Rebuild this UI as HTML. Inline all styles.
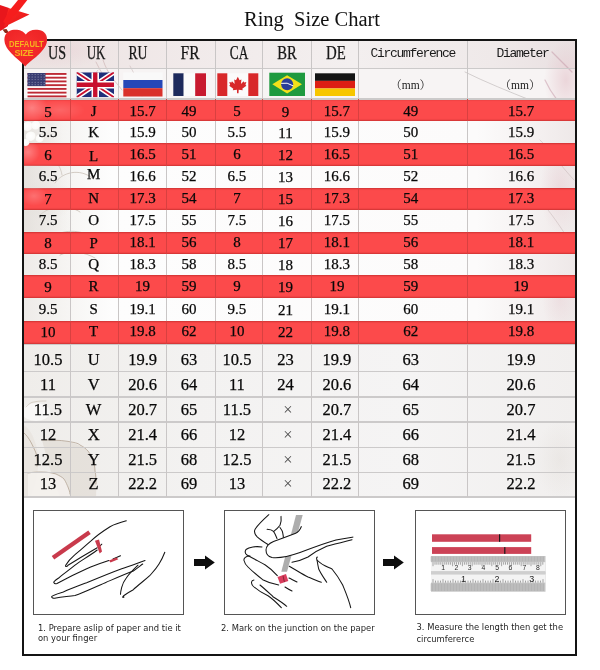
<!DOCTYPE html>
<html><head><meta charset="utf-8"><title>Ring Size Chart</title>
<style>
*{margin:0;padding:0;box-sizing:border-box}
html,body{width:600px;height:670px;background:#fff;overflow:hidden;position:relative}
body{font-family:"Liberation Serif","Noto Serif CJK SC",serif;color:#111}
.a{position:absolute}
#title{left:1px;width:622px;top:7.7px;text-align:center;font-size:20.5px;white-space:pre;color:#111}
#tbl{left:23px;top:39px;width:553px;height:459px;overflow:hidden;background:#f6f5f4}
.vl{position:absolute;top:0;width:1px;background:#c9c6c6}
.vr{position:absolute;width:1px;background:#d94040}
.hl{position:absolute;left:0;height:1.5px;background:#cccaca;width:553px}
.red{position:absolute;left:0;width:553px;background:#fc4a4b;box-shadow:inset 0 1.2px 0.8px rgba(170,30,30,.45),inset 0 -1.2px 0.8px rgba(170,30,30,.45)}
.c{position:absolute;text-align:center;white-space:nowrap;line-height:1;color:#080808;-webkit-text-stroke:0.25px #080808}
.hd{font-size:19px;color:#1a1a1a}
.mono{font-family:"Liberation Mono",monospace;font-size:13px;letter-spacing:-1.3px;color:#1a1a1a;-webkit-text-stroke:0}
.mm{font-family:"Liberation Serif","Noto Serif CJK SC",serif;font-size:11.5px;color:#1a1a1a;-webkit-text-stroke:0}
.n{font-size:15px}
.n2{font-size:16.5px}
#frame{left:22px;top:39px;width:555px;height:617px;border:2px solid #141414}
.box{position:absolute;border:1.5px solid #555;background:#fff}
.cap{position:absolute;font-family:"DejaVu Sans","Liberation Sans",sans-serif;font-size:8.4px;color:#1e1e1e;line-height:10.8px;white-space:nowrap}
svg{position:absolute;overflow:visible}
</style></head><body>

<div id="title" class="a">Ring  Size Chart</div>
<div id="tbl" class="a">
<svg style="left:0;top:0" width="553" height="458" viewBox="23 39 553 458">
<defs>
<linearGradient id="hdr" x1="0" y1="0" x2="1" y2="0">
<stop offset="0" stop-color="#ece2e1"/><stop offset="0.3" stop-color="#f1eaea"/><stop offset="0.6" stop-color="#f3efef"/><stop offset="0.85" stop-color="#efe9e9"/><stop offset="1" stop-color="#e9e0e1"/></linearGradient>
<linearGradient id="mid" x1="0" y1="0" x2="1" y2="0">
<stop offset="0" stop-color="#eeebe8"/><stop offset="0.08" stop-color="#f6f5f3"/><stop offset="0.16" stop-color="#fdfdfd"/><stop offset="0.82" stop-color="#fcfbfb"/><stop offset="0.93" stop-color="#f4f0f0"/><stop offset="1" stop-color="#eee8e8"/></linearGradient>
<linearGradient id="low" x1="0" y1="0" x2="1" y2="0">
<stop offset="0" stop-color="#efedea"/><stop offset="0.3" stop-color="#f3f2f1"/><stop offset="0.7" stop-color="#f5f4f4"/><stop offset="1" stop-color="#f1efee"/></linearGradient>
<radialGradient id="pk" cx="0.5" cy="0.5" r="0.5"><stop offset="0" stop-color="#e6c9cf" stop-opacity="0.7"/><stop offset="1" stop-color="#e6c9cf" stop-opacity="0"/></radialGradient>
<radialGradient id="wh" cx="0.5" cy="0.5" r="0.5"><stop offset="0" stop-color="#ffffff" stop-opacity="1"/><stop offset="0.7" stop-color="#ffffff" stop-opacity="0.8"/><stop offset="1" stop-color="#ffffff" stop-opacity="0"/></radialGradient>
<radialGradient id="gr" cx="0.5" cy="0.5" r="0.5"><stop offset="0" stop-color="#dcd6d0" stop-opacity="0.8"/><stop offset="1" stop-color="#dcd6d0" stop-opacity="0"/></radialGradient>
</defs>
<rect x="23" y="39" width="553" height="458" fill="url(#mid)"/>
<rect x="23" y="39" width="553" height="29" fill="url(#hdr)"/>
<rect x="23" y="68" width="553" height="31" fill="#f7f4f4"/>
<rect x="23" y="343.6" width="553" height="153.4" fill="url(#low)"/>
<ellipse cx="566" cy="80" rx="22" ry="40" fill="url(#pk)"/>
<ellipse cx="560" cy="190" rx="20" ry="45" fill="url(#pk)" opacity="0.7"/>
<ellipse cx="560" cy="300" rx="18" ry="30" fill="url(#pk)" opacity="0.5"/>
<ellipse cx="60" cy="50" rx="50" ry="18" fill="url(#pk)" opacity="0.6"/>
<path fill="none" stroke-linecap="round" stroke="#c7a9a9" stroke-width="1" opacity="0.55" d="M96,62 C100,70 104,78 112,86 M103,60 C108,75 116,82 122,90"/>
<path fill="none" stroke-linecap="round" stroke="#b9a6a6" stroke-width="0.8" opacity="0.5" d="M80,95 C85,85 92,78 98,70 M130,66 C135,75 140,85 142,96"/>
<path fill="none" stroke-linecap="round" stroke="#a7a0a0" stroke-width="1" opacity="0.45" d="M465,72 C485,82 510,92 530,100"/>
<path fill="none" stroke-linecap="round" stroke="#c496a6" stroke-width="1.2" opacity="0.5" d="M552,52 C558,58 564,64 572,72 M545,80 C552,95 560,105 570,112"/>
<path fill="none" stroke-linecap="round" stroke="#b8a8a8" stroke-width="0.8" opacity="0.5" d="M540,140 C550,150 560,165 574,180 M548,210 C556,220 566,235 575,250"/>
<ellipse cx="36" cy="128" rx="14" ry="9" fill="url(#wh)"/>
<ellipse cx="30" cy="140" rx="12" ry="8" fill="url(#wh)"/>
<ellipse cx="45" cy="200" rx="30" ry="20" fill="url(#gr)" opacity="0.5"/>
<path fill="none" stroke-linecap="round" stroke="#a99a8c" stroke-width="0.8" opacity="0.6" d="M30,155 C45,150 60,160 62,175 M55,183 C62,172 80,168 92,178 M40,215 C50,205 70,205 80,212 M52,237 C65,228 85,230 96,240 M60,255 C70,250 85,252 95,258"/>
<path d="M23,425 C30,428 36,440 38,455 C39,470 36,485 30,497 L23,497 Z" fill="#e9e4de" opacity="0.8"/>
<path d="M42,440 C60,439 78,442 88,451 C95,460 97,475 96,497 L60,497 C55,485 50,470 46,455 Z" fill="#e2dcd5" opacity="0.75"/>
<path d="M28,473 C42,470 56,472 64,479 C68,485 70,492 70,497 L28,497 Z" fill="#f4f1ed" opacity="0.9"/>
<ellipse cx="36" cy="412" rx="14" ry="9" fill="#ffffff" opacity="0.6"/>
<path fill="none" stroke-linecap="round" stroke="#a89684" stroke-width="0.9" opacity="0.75" d="M24,433 C29,437 33,446 36,453 C37,458 37.5,462 37,466"/>
<path fill="none" stroke-linecap="round" stroke="#a89684" stroke-width="0.9" opacity="0.75" d="M42,440 C50,440 60,440 68,441.4 C74,442.5 78,443 80,445 C84,447 86,449 88,451 C90,454 92,456 93,459 C94,463 95,467 95,471 C96,475 96,480 96,484"/>
<path fill="none" stroke-linecap="round" stroke="#a89684" stroke-width="0.9" opacity="0.7" d="M28,473 C34,472 38,472 42,472 C48,472 52,473 56,474 C60,476 62,477 64,479 C66,482 67,485 68,487 C69,490 70,492 70,494"/>
<path fill="none" stroke-linecap="round" stroke="#bcae9f" stroke-width="0.8" opacity="0.6" d="M26,407 C29,404 31,402 34,402 C38,401 42,401 46,401"/>
<ellipse cx="560" cy="460" rx="25" ry="40" fill="url(#gr)" opacity="0.4"/>
</svg>
<div class="red" style="top:59.70px;height:22.50px"></div>
<div class="red" style="top:104.00px;height:22.70px"></div>
<div class="red" style="top:149.30px;height:22.00px"></div>
<div class="red" style="top:192.80px;height:22.20px"></div>
<div class="red" style="top:236.30px;height:22.50px"></div>
<div class="red" style="top:282.00px;height:23.20px"></div>
<svg style="left:0;top:0" width="553" height="459" viewBox="23 39 553 459">
<defs><radialGradient id="wo" cx="0.5" cy="0.5" r="0.5"><stop offset="0" stop-color="#fff" stop-opacity="0.3"/><stop offset="1" stop-color="#fff" stop-opacity="0"/></radialGradient>
<linearGradient id="gl" x1="0" y1="0" x2="1" y2="0"><stop offset="0" stop-color="#e2ded9" stop-opacity="0.9"/><stop offset="0.5" stop-color="#e6e2de" stop-opacity="0.6"/><stop offset="1" stop-color="#eeeae6" stop-opacity="0"/></linearGradient>
<radialGradient id="wp" cx="0.45" cy="0.4" r="0.55"><stop offset="0" stop-color="#fff"/><stop offset="0.75" stop-color="#fbfaf8"/><stop offset="1" stop-color="#e7e2dc" stop-opacity="0"/></radialGradient></defs>
<ellipse cx="32" cy="108" rx="16" ry="14" fill="url(#wo)"/>
<ellipse cx="28" cy="152" rx="12" ry="12" fill="url(#wo)"/>
<ellipse cx="34" cy="196" rx="14" ry="10" fill="url(#wo)" opacity="0.7"/>
<ellipse cx="60" cy="110" rx="25" ry="10" fill="url(#wo)" opacity="0.5"/>
<rect x="23" y="121.2" width="40" height="21.8" fill="url(#gl)"/>
<rect x="23" y="165.7" width="50" height="22.6" fill="url(#gl)" opacity="0.8"/>
<rect x="23" y="210.3" width="50" height="21.5" fill="url(#gl)" opacity="0.8"/>
<circle cx="28" cy="127" r="5.5" fill="url(#wp)"/>
<circle cx="36" cy="126" r="5" fill="url(#wp)"/>
<circle cx="31" cy="137" r="5.5" fill="url(#wp)"/>
<circle cx="40" cy="139" r="4.5" fill="url(#wp)"/>
<circle cx="26" cy="143" r="4" fill="url(#wp)"/>
</svg>
<div class="hl" style="top:28.50px"></div>
<div class="hl" style="top:59.20px"></div>
<div class="hl" style="top:304.70px"></div>
<div class="hl" style="top:331.50px"></div>
<div class="hl" style="top:357.00px"></div>
<div class="hl" style="top:382.00px"></div>
<div class="hl" style="top:407.50px"></div>
<div class="hl" style="top:432.50px"></div>
<div class="hl" style="top:457.00px"></div>
<div class="vl" style="left:46.50px;height:458px"></div>
<div class="vl" style="left:94.70px;height:458px"></div>
<div class="vl" style="left:142.50px;height:458px"></div>
<div class="vl" style="left:191.50px;height:458px"></div>
<div class="vl" style="left:239.00px;height:458px"></div>
<div class="vl" style="left:288.00px;height:458px"></div>
<div class="vl" style="left:334.80px;height:458px"></div>
<div class="vl" style="left:443.50px;height:458px"></div>
<div class="vr" style="left:46.50px;top:59.70px;height:22.50px"></div>
<div class="vr" style="left:94.70px;top:59.70px;height:22.50px"></div>
<div class="vr" style="left:142.50px;top:59.70px;height:22.50px"></div>
<div class="vr" style="left:191.50px;top:59.70px;height:22.50px"></div>
<div class="vr" style="left:239.00px;top:59.70px;height:22.50px"></div>
<div class="vr" style="left:288.00px;top:59.70px;height:22.50px"></div>
<div class="vr" style="left:334.80px;top:59.70px;height:22.50px"></div>
<div class="vr" style="left:443.50px;top:59.70px;height:22.50px"></div>
<div class="vr" style="left:46.50px;top:104.00px;height:22.70px"></div>
<div class="vr" style="left:94.70px;top:104.00px;height:22.70px"></div>
<div class="vr" style="left:142.50px;top:104.00px;height:22.70px"></div>
<div class="vr" style="left:191.50px;top:104.00px;height:22.70px"></div>
<div class="vr" style="left:239.00px;top:104.00px;height:22.70px"></div>
<div class="vr" style="left:288.00px;top:104.00px;height:22.70px"></div>
<div class="vr" style="left:334.80px;top:104.00px;height:22.70px"></div>
<div class="vr" style="left:443.50px;top:104.00px;height:22.70px"></div>
<div class="vr" style="left:46.50px;top:149.30px;height:22.00px"></div>
<div class="vr" style="left:94.70px;top:149.30px;height:22.00px"></div>
<div class="vr" style="left:142.50px;top:149.30px;height:22.00px"></div>
<div class="vr" style="left:191.50px;top:149.30px;height:22.00px"></div>
<div class="vr" style="left:239.00px;top:149.30px;height:22.00px"></div>
<div class="vr" style="left:288.00px;top:149.30px;height:22.00px"></div>
<div class="vr" style="left:334.80px;top:149.30px;height:22.00px"></div>
<div class="vr" style="left:443.50px;top:149.30px;height:22.00px"></div>
<div class="vr" style="left:46.50px;top:192.80px;height:22.20px"></div>
<div class="vr" style="left:94.70px;top:192.80px;height:22.20px"></div>
<div class="vr" style="left:142.50px;top:192.80px;height:22.20px"></div>
<div class="vr" style="left:191.50px;top:192.80px;height:22.20px"></div>
<div class="vr" style="left:239.00px;top:192.80px;height:22.20px"></div>
<div class="vr" style="left:288.00px;top:192.80px;height:22.20px"></div>
<div class="vr" style="left:334.80px;top:192.80px;height:22.20px"></div>
<div class="vr" style="left:443.50px;top:192.80px;height:22.20px"></div>
<div class="vr" style="left:46.50px;top:236.30px;height:22.50px"></div>
<div class="vr" style="left:94.70px;top:236.30px;height:22.50px"></div>
<div class="vr" style="left:142.50px;top:236.30px;height:22.50px"></div>
<div class="vr" style="left:191.50px;top:236.30px;height:22.50px"></div>
<div class="vr" style="left:239.00px;top:236.30px;height:22.50px"></div>
<div class="vr" style="left:288.00px;top:236.30px;height:22.50px"></div>
<div class="vr" style="left:334.80px;top:236.30px;height:22.50px"></div>
<div class="vr" style="left:443.50px;top:236.30px;height:22.50px"></div>
<div class="vr" style="left:46.50px;top:282.00px;height:23.20px"></div>
<div class="vr" style="left:94.70px;top:282.00px;height:23.20px"></div>
<div class="vr" style="left:142.50px;top:282.00px;height:23.20px"></div>
<div class="vr" style="left:191.50px;top:282.00px;height:23.20px"></div>
<div class="vr" style="left:239.00px;top:282.00px;height:23.20px"></div>
<div class="vr" style="left:288.00px;top:282.00px;height:23.20px"></div>
<div class="vr" style="left:334.80px;top:282.00px;height:23.20px"></div>
<div class="vr" style="left:443.50px;top:282.00px;height:23.20px"></div>
<svg style="left:-23px;top:-39px" width="600" height="670" viewBox="0 0 600 670">
<rect x="27.5" y="73" width="39" height="24.3" fill="#fff"/>
<rect x="27.5" y="73.00" width="39" height="1.87" fill="#bd2a35"/>
<rect x="27.5" y="76.74" width="39" height="1.87" fill="#bd2a35"/>
<rect x="27.5" y="80.48" width="39" height="1.87" fill="#bd2a35"/>
<rect x="27.5" y="84.22" width="39" height="1.87" fill="#bd2a35"/>
<rect x="27.5" y="87.95" width="39" height="1.87" fill="#bd2a35"/>
<rect x="27.5" y="91.69" width="39" height="1.87" fill="#bd2a35"/>
<rect x="27.5" y="95.43" width="39" height="1.87" fill="#bd2a35"/>
<rect x="27.5" y="73" width="18" height="13.08" fill="#3a3d72"/>
<circle cx="29.1" cy="74.4" r="0.45" fill="#d8dae8"/>
<circle cx="32.1" cy="74.4" r="0.45" fill="#d8dae8"/>
<circle cx="35.1" cy="74.4" r="0.45" fill="#d8dae8"/>
<circle cx="38.1" cy="74.4" r="0.45" fill="#d8dae8"/>
<circle cx="41.1" cy="74.4" r="0.45" fill="#d8dae8"/>
<circle cx="44.1" cy="74.4" r="0.45" fill="#d8dae8"/>
<circle cx="29.1" cy="77.0" r="0.45" fill="#d8dae8"/>
<circle cx="32.1" cy="77.0" r="0.45" fill="#d8dae8"/>
<circle cx="35.1" cy="77.0" r="0.45" fill="#d8dae8"/>
<circle cx="38.1" cy="77.0" r="0.45" fill="#d8dae8"/>
<circle cx="41.1" cy="77.0" r="0.45" fill="#d8dae8"/>
<circle cx="44.1" cy="77.0" r="0.45" fill="#d8dae8"/>
<circle cx="29.1" cy="79.6" r="0.45" fill="#d8dae8"/>
<circle cx="32.1" cy="79.6" r="0.45" fill="#d8dae8"/>
<circle cx="35.1" cy="79.6" r="0.45" fill="#d8dae8"/>
<circle cx="38.1" cy="79.6" r="0.45" fill="#d8dae8"/>
<circle cx="41.1" cy="79.6" r="0.45" fill="#d8dae8"/>
<circle cx="44.1" cy="79.6" r="0.45" fill="#d8dae8"/>
<circle cx="29.1" cy="82.2" r="0.45" fill="#d8dae8"/>
<circle cx="32.1" cy="82.2" r="0.45" fill="#d8dae8"/>
<circle cx="35.1" cy="82.2" r="0.45" fill="#d8dae8"/>
<circle cx="38.1" cy="82.2" r="0.45" fill="#d8dae8"/>
<circle cx="41.1" cy="82.2" r="0.45" fill="#d8dae8"/>
<circle cx="44.1" cy="82.2" r="0.45" fill="#d8dae8"/>
<circle cx="29.1" cy="84.8" r="0.45" fill="#d8dae8"/>
<circle cx="32.1" cy="84.8" r="0.45" fill="#d8dae8"/>
<circle cx="35.1" cy="84.8" r="0.45" fill="#d8dae8"/>
<circle cx="38.1" cy="84.8" r="0.45" fill="#d8dae8"/>
<circle cx="41.1" cy="84.8" r="0.45" fill="#d8dae8"/>
<circle cx="44.1" cy="84.8" r="0.45" fill="#d8dae8"/>
<svg x="76.5" y="72.3" width="37.5" height="25" viewBox="0 0 60 40" preserveAspectRatio="none" style="position:static;overflow:hidden"><rect width="60" height="40" fill="#1f2f7a"/><path d="M0,0 L60,40 M60,0 L0,40" stroke="#fff" stroke-width="8"/><path d="M0,0 L60,40 M60,0 L0,40" stroke="#c8102e" stroke-width="3"/><path d="M30,0 V40 M0,20 H60" stroke="#fff" stroke-width="12"/><path d="M30,0 V40 M0,20 H60" stroke="#c8102e" stroke-width="7"/></svg>
<rect x="123.3" y="72.5" width="39.2" height="8" fill="#f9f9f9"/>
<rect x="123.3" y="80.0" width="39.2" height="8.2" fill="#2547b8"/>
<rect x="123.3" y="88.2" width="39.2" height="8.3" fill="#d9312b"/>
<rect x="173.3" y="73.3" width="10.4" height="22.7" fill="#1d2a5c"/>
<rect x="183.70000000000002" y="73.3" width="11.5" height="22.7" fill="#fbfbfb"/>
<rect x="195.20000000000002" y="73.3" width="10.8" height="22.7" fill="#c81a2f"/>
<rect x="217.3" y="73.3" width="41" height="22.7" fill="#fbfbfb"/>
<rect x="217.3" y="73.3" width="10" height="22.7" fill="#d8282a"/>
<rect x="248.3" y="73.3" width="10" height="22.7" fill="#d8282a"/>
<path transform="translate(237.8,84.8) scale(0.9)" fill="#d8282a" d="M0,-9 L2,-5 L4,-6 L3.5,-1 L6.5,-4 L7,-2.5 L9.5,-3 L8.5,0 L9.5,1 L5,4.5 L5.5,6 L1,5.5 L0.8,9.5 L-0.8,9.5 L-1,5.5 L-5.5,6 L-5,4.5 L-9.5,1 L-8.5,0 L-9.5,-3 L-7,-2.5 L-6.5,-4 L-3.5,-1 L-4,-6 L-2,-5 Z"/>
<rect x="269.3" y="72.7" width="35.7" height="23.3" fill="#1f9a3f"/>
<path d="M272.3,84.35000000000001 L287.15000000000003,75.2 L302.0,84.35000000000001 L287.15000000000003,93.5 Z" fill="#f3e11a"/>
<circle cx="287.15000000000003" cy="84.35000000000001" r="6" fill="#2a3f98"/>
<path d="M281.15000000000003,83.35000000000001 Q287.15000000000003,81.85000000000001 293.15000000000003,85.85000000000001" stroke="#fff" stroke-width="1" fill="none"/>
<rect x="315" y="73.3" width="40" height="7.57" fill="#141414"/>
<rect x="315" y="80.87" width="40" height="7.57" fill="#dc1f14"/>
<rect x="315" y="88.43" width="40" height="7.57" fill="#f7c600"/>
</svg>
<div class="c hd" style="left:34px;top:4px;transform:translateX(-50%) scaleX(0.74)">US</div>
<div class="c hd" style="left:73.1px;top:4px;transform:translateX(-50%) scaleX(0.68)">UK</div>
<div class="c hd" style="left:114.69999999999999px;top:4px;transform:translateX(-50%) scaleX(0.72)">RU</div>
<div class="c hd" style="left:167px;top:4px;transform:translateX(-50%) scaleX(0.815)">FR</div>
<div class="c hd" style="left:216.2px;top:4px;transform:translateX(-50%) scaleX(0.7)">CA</div>
<div class="c hd" style="left:263.7px;top:4px;transform:translateX(-50%) scaleX(0.77)">BR</div>
<div class="c hd" style="left:312.9px;top:4px;transform:translateX(-50%) scaleX(0.78)">DE</div>
<div class="c mono" style="left:335.3px;width:108.69999999999999px;top:8px">Circumference</div>
<div class="c mono" style="left:445px;width:109px;top:8px">Diameter</div>
<div class="c mm" style="left:333.3px;width:108.69999999999999px;top:40.5px">（mm）</div>
<div class="c mm" style="left:442.5px;width:109px;top:40.5px">（mm）</div>
<div class="c n" style="left:1.5px;width:47.0px;top:66.40px">5</div>
<div class="c n" style="left:46.5px;width:48.2px;top:65.20px">J</div>
<div class="c n" style="left:95.7px;width:47.8px;top:65.20px">15.7</div>
<div class="c n" style="left:141.5px;width:49.0px;top:65.20px">49</div>
<div class="c n" style="left:190.2px;width:47.5px;top:65.20px">5</div>
<div class="c n" style="left:238.0px;width:49.0px;top:66.20px">9</div>
<div class="c n" style="left:290.5px;width:46.80000000000001px;top:65.20px">15.7</div>
<div class="c n" style="left:333.3px;width:108.69999999999999px;top:65.20px">49</div>
<div class="c n" style="left:443.5px;width:109.0px;top:65.20px">15.7</div>
<div class="c n" style="left:1.5px;width:47.0px;top:86.40px">5.5</div>
<div class="c n" style="left:46.5px;width:48.2px;top:86.40px">K</div>
<div class="c n" style="left:95.7px;width:47.8px;top:86.40px">15.9</div>
<div class="c n" style="left:141.5px;width:49.0px;top:86.40px">50</div>
<div class="c n" style="left:190.2px;width:47.5px;top:86.40px">5.5</div>
<div class="c n" style="left:238.0px;width:49.0px;top:87.40px">11</div>
<div class="c n" style="left:290.5px;width:46.80000000000001px;top:86.40px">15.9</div>
<div class="c n" style="left:333.3px;width:108.69999999999999px;top:86.40px">50</div>
<div class="c n" style="left:443.5px;width:109.0px;top:86.40px">15.9</div>
<div class="c n" style="left:1.5px;width:47.0px;top:109.30px">6</div>
<div class="c n" style="left:46.5px;width:48.2px;top:110.10px">L</div>
<div class="c n" style="left:95.7px;width:47.8px;top:108.10px">16.5</div>
<div class="c n" style="left:141.5px;width:49.0px;top:108.10px">51</div>
<div class="c n" style="left:190.2px;width:47.5px;top:108.10px">6</div>
<div class="c n" style="left:238.0px;width:49.0px;top:109.10px">12</div>
<div class="c n" style="left:290.5px;width:46.80000000000001px;top:108.10px">16.5</div>
<div class="c n" style="left:333.3px;width:108.69999999999999px;top:108.10px">51</div>
<div class="c n" style="left:443.5px;width:109.0px;top:108.10px">16.5</div>
<div class="c n" style="left:1.5px;width:47.0px;top:129.60px">6.5</div>
<div class="c n" style="left:46.5px;width:48.2px;top:127.60px">M</div>
<div class="c n" style="left:95.7px;width:47.8px;top:129.60px">16.6</div>
<div class="c n" style="left:141.5px;width:49.0px;top:129.60px">52</div>
<div class="c n" style="left:190.2px;width:47.5px;top:129.60px">6.5</div>
<div class="c n" style="left:238.0px;width:49.0px;top:130.60px">13</div>
<div class="c n" style="left:290.5px;width:46.80000000000001px;top:129.60px">16.6</div>
<div class="c n" style="left:333.3px;width:108.69999999999999px;top:129.60px">52</div>
<div class="c n" style="left:443.5px;width:109.0px;top:129.60px">16.6</div>
<div class="c n" style="left:1.5px;width:47.0px;top:153.30px">7</div>
<div class="c n" style="left:46.5px;width:48.2px;top:152.10px">N</div>
<div class="c n" style="left:95.7px;width:47.8px;top:152.10px">17.3</div>
<div class="c n" style="left:141.5px;width:49.0px;top:152.10px">54</div>
<div class="c n" style="left:190.2px;width:47.5px;top:152.10px">7</div>
<div class="c n" style="left:238.0px;width:49.0px;top:153.10px">15</div>
<div class="c n" style="left:290.5px;width:46.80000000000001px;top:152.10px">17.3</div>
<div class="c n" style="left:333.3px;width:108.69999999999999px;top:152.10px">54</div>
<div class="c n" style="left:443.5px;width:109.0px;top:152.10px">17.3</div>
<div class="c n" style="left:1.5px;width:47.0px;top:174.10px">7.5</div>
<div class="c n" style="left:46.5px;width:48.2px;top:174.10px">O</div>
<div class="c n" style="left:95.7px;width:47.8px;top:174.10px">17.5</div>
<div class="c n" style="left:141.5px;width:49.0px;top:174.10px">55</div>
<div class="c n" style="left:190.2px;width:47.5px;top:174.10px">7.5</div>
<div class="c n" style="left:238.0px;width:49.0px;top:175.10px">16</div>
<div class="c n" style="left:290.5px;width:46.80000000000001px;top:174.10px">17.5</div>
<div class="c n" style="left:333.3px;width:108.69999999999999px;top:174.10px">55</div>
<div class="c n" style="left:443.5px;width:109.0px;top:174.10px">17.5</div>
<div class="c n" style="left:1.5px;width:47.0px;top:196.70px">8</div>
<div class="c n" style="left:46.5px;width:48.2px;top:197.00px">P</div>
<div class="c n" style="left:95.7px;width:47.8px;top:195.50px">18.1</div>
<div class="c n" style="left:141.5px;width:49.0px;top:195.50px">56</div>
<div class="c n" style="left:190.2px;width:47.5px;top:195.50px">8</div>
<div class="c n" style="left:238.0px;width:49.0px;top:196.50px">17</div>
<div class="c n" style="left:290.5px;width:46.80000000000001px;top:195.50px">18.1</div>
<div class="c n" style="left:333.3px;width:108.69999999999999px;top:195.50px">56</div>
<div class="c n" style="left:443.5px;width:109.0px;top:195.50px">18.1</div>
<div class="c n" style="left:1.5px;width:47.0px;top:218.00px">8.5</div>
<div class="c n" style="left:46.5px;width:48.2px;top:218.00px">Q</div>
<div class="c n" style="left:95.7px;width:47.8px;top:218.00px">18.3</div>
<div class="c n" style="left:141.5px;width:49.0px;top:218.00px">58</div>
<div class="c n" style="left:190.2px;width:47.5px;top:218.00px">8.5</div>
<div class="c n" style="left:238.0px;width:49.0px;top:219.00px">18</div>
<div class="c n" style="left:290.5px;width:46.80000000000001px;top:218.00px">18.3</div>
<div class="c n" style="left:333.3px;width:108.69999999999999px;top:218.00px">58</div>
<div class="c n" style="left:443.5px;width:109.0px;top:218.00px">18.3</div>
<div class="c n" style="left:1.5px;width:47.0px;top:241.20px">9</div>
<div class="c n" style="left:46.5px;width:48.2px;top:240.00px">R</div>
<div class="c n" style="left:95.7px;width:47.8px;top:240.00px">19</div>
<div class="c n" style="left:141.5px;width:49.0px;top:240.00px">59</div>
<div class="c n" style="left:190.2px;width:47.5px;top:240.00px">9</div>
<div class="c n" style="left:238.0px;width:49.0px;top:241.00px">19</div>
<div class="c n" style="left:290.5px;width:46.80000000000001px;top:240.00px">19</div>
<div class="c n" style="left:333.3px;width:108.69999999999999px;top:240.00px">59</div>
<div class="c n" style="left:443.5px;width:109.0px;top:240.00px">19</div>
<div class="c n" style="left:1.5px;width:47.0px;top:262.90px">9.5</div>
<div class="c n" style="left:46.5px;width:48.2px;top:262.90px">S</div>
<div class="c n" style="left:95.7px;width:47.8px;top:262.90px">19.1</div>
<div class="c n" style="left:141.5px;width:49.0px;top:262.90px">60</div>
<div class="c n" style="left:190.2px;width:47.5px;top:262.90px">9.5</div>
<div class="c n" style="left:238.0px;width:49.0px;top:263.90px">21</div>
<div class="c n" style="left:290.5px;width:46.80000000000001px;top:262.90px">19.1</div>
<div class="c n" style="left:333.3px;width:108.69999999999999px;top:262.90px">60</div>
<div class="c n" style="left:443.5px;width:109.0px;top:262.90px">19.1</div>
<div class="c n" style="left:1.5px;width:47.0px;top:286.10px">10</div>
<div class="c n" style="left:46.5px;width:48.2px;top:284.90px">T</div>
<div class="c n" style="left:95.7px;width:47.8px;top:284.90px">19.8</div>
<div class="c n" style="left:141.5px;width:49.0px;top:284.90px">62</div>
<div class="c n" style="left:190.2px;width:47.5px;top:284.90px">10</div>
<div class="c n" style="left:238.0px;width:49.0px;top:285.90px">22</div>
<div class="c n" style="left:290.5px;width:46.80000000000001px;top:284.90px">19.8</div>
<div class="c n" style="left:333.3px;width:108.69999999999999px;top:284.90px">62</div>
<div class="c n" style="left:443.5px;width:109.0px;top:284.90px">19.8</div>
<div class="c n2" style="left:1.5px;width:47.0px;top:313.26px">10.5</div>
<div class="c n2" style="left:46.5px;width:48.2px;top:313.26px">U</div>
<div class="c n2" style="left:95.7px;width:47.8px;top:313.26px">19.9</div>
<div class="c n2" style="left:141.5px;width:49.0px;top:313.26px">63</div>
<div class="c n2" style="left:190.2px;width:47.5px;top:313.26px">10.5</div>
<div class="c n2" style="left:238.0px;width:49.0px;top:313.26px">23</div>
<div class="c n2" style="left:290.5px;width:46.80000000000001px;top:313.26px">19.9</div>
<div class="c n2" style="left:333.3px;width:108.69999999999999px;top:313.26px">63</div>
<div class="c n2" style="left:443.5px;width:109.0px;top:313.26px">19.9</div>
<div class="c n2" style="left:1.5px;width:47.0px;top:337.86px">11</div>
<div class="c n2" style="left:46.5px;width:48.2px;top:337.86px">V</div>
<div class="c n2" style="left:95.7px;width:47.8px;top:337.86px">20.6</div>
<div class="c n2" style="left:141.5px;width:49.0px;top:337.86px">64</div>
<div class="c n2" style="left:190.2px;width:47.5px;top:337.86px">11</div>
<div class="c n2" style="left:238.0px;width:49.0px;top:337.86px">24</div>
<div class="c n2" style="left:290.5px;width:46.80000000000001px;top:337.86px">20.6</div>
<div class="c n2" style="left:333.3px;width:108.69999999999999px;top:337.86px">64</div>
<div class="c n2" style="left:443.5px;width:109.0px;top:337.86px">20.6</div>
<div class="c n2" style="left:1.5px;width:47.0px;top:362.76px">11.5</div>
<div class="c n2" style="left:46.5px;width:48.2px;top:362.76px">W</div>
<div class="c n2" style="left:95.7px;width:47.8px;top:362.76px">20.7</div>
<div class="c n2" style="left:141.5px;width:49.0px;top:362.76px">65</div>
<div class="c n2" style="left:190.2px;width:47.5px;top:362.76px">11.5</div>
<div class="c n2" style="left:240.3px;width:49.0px;top:362.76px;color:#4a4a4a;-webkit-text-stroke:0">×</div>
<div class="c n2" style="left:290.5px;width:46.80000000000001px;top:362.76px">20.7</div>
<div class="c n2" style="left:333.3px;width:108.69999999999999px;top:362.76px">65</div>
<div class="c n2" style="left:443.5px;width:109.0px;top:362.76px">20.7</div>
<div class="c n2" style="left:1.5px;width:47.0px;top:387.96px">12</div>
<div class="c n2" style="left:46.5px;width:48.2px;top:387.96px">X</div>
<div class="c n2" style="left:95.7px;width:47.8px;top:387.96px">21.4</div>
<div class="c n2" style="left:141.5px;width:49.0px;top:387.96px">66</div>
<div class="c n2" style="left:190.2px;width:47.5px;top:387.96px">12</div>
<div class="c n2" style="left:240.3px;width:49.0px;top:387.96px;color:#4a4a4a;-webkit-text-stroke:0">×</div>
<div class="c n2" style="left:290.5px;width:46.80000000000001px;top:387.96px">21.4</div>
<div class="c n2" style="left:333.3px;width:108.69999999999999px;top:387.96px">66</div>
<div class="c n2" style="left:443.5px;width:109.0px;top:387.96px">21.4</div>
<div class="c n2" style="left:1.5px;width:47.0px;top:412.76px">12.5</div>
<div class="c n2" style="left:46.5px;width:48.2px;top:412.76px">Y</div>
<div class="c n2" style="left:95.7px;width:47.8px;top:412.76px">21.5</div>
<div class="c n2" style="left:141.5px;width:49.0px;top:412.76px">68</div>
<div class="c n2" style="left:190.2px;width:47.5px;top:412.76px">12.5</div>
<div class="c n2" style="left:240.3px;width:49.0px;top:412.76px;color:#4a4a4a;-webkit-text-stroke:0">×</div>
<div class="c n2" style="left:290.5px;width:46.80000000000001px;top:412.76px">21.5</div>
<div class="c n2" style="left:333.3px;width:108.69999999999999px;top:412.76px">68</div>
<div class="c n2" style="left:443.5px;width:109.0px;top:412.76px">21.5</div>
<div class="c n2" style="left:1.5px;width:47.0px;top:437.16px">13</div>
<div class="c n2" style="left:46.5px;width:48.2px;top:437.16px">Z</div>
<div class="c n2" style="left:95.7px;width:47.8px;top:437.16px">22.2</div>
<div class="c n2" style="left:141.5px;width:49.0px;top:437.16px">69</div>
<div class="c n2" style="left:190.2px;width:47.5px;top:437.16px">13</div>
<div class="c n2" style="left:240.3px;width:49.0px;top:437.16px;color:#4a4a4a;-webkit-text-stroke:0">×</div>
<div class="c n2" style="left:290.5px;width:46.80000000000001px;top:437.16px">22.2</div>
<div class="c n2" style="left:333.3px;width:108.69999999999999px;top:437.16px">69</div>
<div class="c n2" style="left:443.5px;width:109.0px;top:437.16px">22.2</div>
</div>
<div id="frame" class="a"></div>
<div class="box" style="left:33.2px;top:509.6px;width:151.2px;height:105.6px"></div>
<div class="box" style="left:223.6px;top:509.6px;width:151.5px;height:105.6px"></div>
<div class="box" style="left:415.2px;top:509.6px;width:151px;height:105.6px"></div>
<svg style="left:0;top:0" width="600" height="670" viewBox="0 0 600 670">
<line x1="53" y1="557.8" x2="89.5" y2="532.2" stroke="#c93a4c" stroke-width="4.3"/>
<path fill="none" stroke="#151515" stroke-width="1.05" stroke-linecap="round" stroke-linejoin="round" d="M126.3,520.8 C118,523 114,524.5 110,526.7 C100,533 95,537 91.3,540.7 C83,548 79,551 75,554.7 C70,559 67,563 65.7,565.2 C65,567 67,567 68,565.2 C78,559 88,553 97.2,547.7 M99.5,546.5 L101.8,544.2"/>
<path fill="none" stroke="#151515" stroke-width="1.05" stroke-linecap="round" stroke-linejoin="round" d="M97.2,550 C88,557 80,561 75,565.2 C68,571 62,575 58.7,578 C55,580.5 53,582 54,582.7 C54.5,584 55.5,584 57,583.5 C67,578 77,573 86.7,568.7 C95,565 103,562.5 109,560.5 M113,559 L120.5,555.8"/>
<path fill="none" stroke="#151515" stroke-width="1.05" stroke-linecap="round" stroke-linejoin="round" d="M145,560.5 C136,564 128,566.5 121.7,568.7 C110,573 98,578 86.7,582.7 C78,586 70,589 63.3,592 C57,594 52,595.5 51.7,596.5 C51.5,598 53,598.5 56,598 C62,597 68,596.5 75,595.5 C85,592 95,587 105.3,582.7 C115,578.5 125,574 133.3,571 C137,568.5 140,566 142.7,564"/>
<path fill="none" stroke="#151515" stroke-width="1.05" stroke-linecap="round" stroke-linejoin="round" d="M164.8,552.3 C163,557 161,561 159,564 C156,569 153,572 149.7,575.7 C144,581 138,585 133.3,589.7 C129,592 126,594 124,595.5 C122,597 122.5,598 124,597 M138,565.2 C133,570 129,574 126.3,578 C124,581 122.5,584 121.7,587.3 C121,590 120.5,592.5 120.5,594.3"/>
<path d="M95,540.7 L99,539.5 L102,551.5 L99.7,553.5 Z" fill="#c93a4c"/>
<path d="M109,560.5 L116.5,557.5 L118.3,559.3 L110.5,562.5 Z" fill="#c93a4c"/>
<path d="M194,559 H205 V555.5 L214.8,562.5 L205,569.6 V566 H194 Z" fill="#0d0d0d"/>
<path d="M383,559 H394 V555.5 L403.8,562.5 L394,569.6 V566 H383 Z" fill="#0d0d0d"/>
<path d="M296,515 L302.7,515 L287,571.7 L281.3,571.7 Z" fill="#adadad"/>
<path fill="none" stroke="#151515" stroke-width="1.05" stroke-linecap="round" stroke-linejoin="round" d="M268.8,514.7 C263,520 258,525 255.4,528.7 C253.5,531.5 254.5,534 257.2,536.8 C260,539.5 264,542 268.8,545"/>
<path fill="none" stroke="#151515" stroke-width="1.05" stroke-linecap="round" stroke-linejoin="round" d="M267.1,529.3 C270,529.5 272,530 273.5,531.3 C275,533.5 276,536 277,538.5"/>
<path fill="none" stroke="#151515" stroke-width="1.05" stroke-linecap="round" stroke-linejoin="round" d="M281,516.4 C281.5,520 281,523 280,525.2 C278,528 275.5,530 273.5,531.6"/>
<path fill="none" stroke="#151515" stroke-width="1.05" stroke-linecap="round" stroke-linejoin="round" d="M280,527.5 C281.5,529.5 282.8,531.5 282.8,533.3 C283.2,535 283.4,537 283.4,538.6"/>
<path fill="#fff" stroke="#151515" stroke-width="1.05" stroke-linejoin="round" d="M301.5,526.3 C300,530 298,532.5 295.7,533.3 C290,535.5 282,538.5 273.5,541.5 C269,543.5 266,547 266,550 C266,554 268,556.5 272,557.5 C280,558.5 290,556 300,552.5 C312,548 325,543 336,540 C343,538.5 350,537.5 353.3,537"/>
<path fill="none" stroke="#151515" stroke-width="1.05" stroke-linecap="round" stroke-linejoin="round" d="M352,539.7 C345,541.5 335,544 326.7,546.3 C318,550 312,554 308,557 C302,560 297,561.5 292,562.3"/>
<path fill="none" stroke="#151515" stroke-width="1.05" stroke-linecap="round" stroke-linejoin="round" d="M262,547 C256,546 249,547 246,549.5 C244.5,552 245.5,554 247,555 C254,559 260,562 265.3,565 C270,568 274,572 277.3,575.7"/>
<path fill="none" stroke="#151515" stroke-width="1.05" stroke-linecap="round" stroke-linejoin="round" d="M250,556 C246,556 243.5,558 244,560.5 C244.5,563 246,565 248,567 C253,572 258,576 262.7,579.7 C268,582.5 273,584 278.7,585"/>
<path fill="none" stroke="#151515" stroke-width="1.05" stroke-linecap="round" stroke-linejoin="round" d="M254,580 C251,580.5 251,583 252.5,585.5 C257,590 262,593 268,595.7 C273,599 277,603 281.3,607.7"/>
<path fill="none" stroke="#151515" stroke-width="1.05" stroke-linecap="round" stroke-linejoin="round" d="M260,585 C265,589 269,593 273.3,597 C278,600 283,603 286.7,606.3"/>
<path fill="none" stroke="#151515" stroke-width="1.05" stroke-linecap="round" stroke-linejoin="round" d="M289.3,566.3 C296,570 302,574 308,577 C313,579 317,581 321.3,582.3"/>
<path fill="none" stroke="#151515" stroke-width="1.05" stroke-linecap="round" stroke-linejoin="round" d="M317.3,557 C316,558 316.5,560 318,561 C323,566 328,567 332,569 C337,575 340,580 342.7,585 C346,593 349,600 350.7,607.7"/>
<path fill="none" stroke="#151515" stroke-width="1.05" stroke-linecap="round" stroke-linejoin="round" d="M317,560 C317.5,563 318,566 318.7,569 C321,574 324,578 326.7,582.3"/>
<path fill="none" stroke="#151515" stroke-width="1.05" stroke-linecap="round" stroke-linejoin="round" d="M289,578 C292,579.5 294.5,580.5 297,582"/>
<path fill="none" stroke="#151515" stroke-width="1.05" stroke-linecap="round" stroke-linejoin="round" d="M285,587 C288,589 290,590 292,591"/>
<path d="M277.5,577 L286,574 L288.3,581 L280,583.7 Z" fill="#d93d5d"/>
<line x1="283" y1="575.8" x2="284.4" y2="582" stroke="#6a1a28" stroke-width="0.7"/>
<rect x="432" y="534.3" width="99.2" height="7.5" fill="#cc4256"/>
<rect x="499" y="534.3" width="1.2" height="7.5" fill="#1a1a1a"/>
<rect x="432" y="547.1" width="99.2" height="6.8" fill="#cc4256"/>
<rect x="504.2" y="547.1" width="1.2" height="6.8" fill="#1a1a1a"/>
<rect x="431" y="556" width="114.5" height="35.7" fill="#c4c4c4"/>
<rect x="431" y="562.2" width="114.5" height="9.2" fill="#f4f4f4"/>
<rect x="431" y="574.3" width="114.5" height="8.3" fill="#f4f4f4"/>
<rect x="431" y="571.4" width="114.5" height="2.9" fill="#cfcfcf"/>
<path d="M433.0,562.2 v4 M435.0,562.2 v2.5 M436.9,562.2 v2.5 M438.9,562.2 v2.5 M440.8,562.2 v2.5 M442.8,562.2 v4 M444.8,562.2 v2.5 M446.7,562.2 v2.5 M448.7,562.2 v2.5 M450.6,562.2 v2.5 M452.6,562.2 v4 M454.6,562.2 v2.5 M456.5,562.2 v2.5 M458.5,562.2 v2.5 M460.4,562.2 v2.5 M462.4,562.2 v4 M464.4,562.2 v2.5 M466.3,562.2 v2.5 M468.3,562.2 v2.5 M470.2,562.2 v2.5 M472.2,562.2 v4 M474.2,562.2 v2.5 M476.1,562.2 v2.5 M478.1,562.2 v2.5 M480.0,562.2 v2.5 M482.0,562.2 v4 M484.0,562.2 v2.5 M485.9,562.2 v2.5 M487.9,562.2 v2.5 M489.8,562.2 v2.5 M491.8,562.2 v4 M493.8,562.2 v2.5 M495.7,562.2 v2.5 M497.7,562.2 v2.5 M499.6,562.2 v2.5 M501.6,562.2 v4 M503.6,562.2 v2.5 M505.5,562.2 v2.5 M507.5,562.2 v2.5 M509.4,562.2 v2.5 M511.4,562.2 v4 M513.4,562.2 v2.5 M515.3,562.2 v2.5 M517.3,562.2 v2.5 M519.2,562.2 v2.5 M521.2,562.2 v4 M523.2,562.2 v2.5 M525.1,562.2 v2.5 M527.1,562.2 v2.5 M529.0,562.2 v2.5 M531.0,562.2 v4 M533.0,562.2 v2.5 M534.9,562.2 v2.5 M536.9,562.2 v2.5 M538.8,562.2 v2.5 M540.8,562.2 v4 M542.8,562.2 v2.5 M433.0,582.6 v-3.5 M435.5,582.6 v-2 M438.0,582.6 v-2 M440.5,582.6 v-2 M443.0,582.6 v-3.5 M445.5,582.6 v-2 M448.0,582.6 v-2 M450.5,582.6 v-2 M453.0,582.6 v-3.5 M455.5,582.6 v-2 M458.0,582.6 v-2 M460.5,582.6 v-2 M463.0,582.6 v-3.5 M465.5,582.6 v-2 M468.0,582.6 v-2 M470.5,582.6 v-2 M473.0,582.6 v-3.5 M475.5,582.6 v-2 M478.0,582.6 v-2 M480.5,582.6 v-2 M483.0,582.6 v-3.5 M485.5,582.6 v-2 M488.0,582.6 v-2 M490.5,582.6 v-2 M493.0,582.6 v-3.5 M495.5,582.6 v-2 M498.0,582.6 v-2 M500.5,582.6 v-2 M503.0,582.6 v-3.5 M505.5,582.6 v-2 M508.0,582.6 v-2 M510.5,582.6 v-2 M513.0,582.6 v-3.5 M515.5,582.6 v-2 M518.0,582.6 v-2 M520.5,582.6 v-2 M523.0,582.6 v-3.5 M525.5,582.6 v-2 M528.0,582.6 v-2 M530.5,582.6 v-2 M533.0,582.6 v-3.5 M535.5,582.6 v-2 M538.0,582.6 v-2 M540.5,582.6 v-2 M543.0,582.6 v-3.5" stroke="#555" stroke-width="0.5"/>
<path d="M431.0,556.5 v5 M432.5,556.5 v5 M434.0,556.5 v5 M435.5,556.5 v5 M437.0,556.5 v5 M438.5,556.5 v5 M440.0,556.5 v5 M441.5,556.5 v5 M443.0,556.5 v5 M444.5,556.5 v5 M446.0,556.5 v5 M447.5,556.5 v5 M449.0,556.5 v5 M450.5,556.5 v5 M452.0,556.5 v5 M453.5,556.5 v5 M455.0,556.5 v5 M456.5,556.5 v5 M458.0,556.5 v5 M459.5,556.5 v5 M461.0,556.5 v5 M462.5,556.5 v5 M464.0,556.5 v5 M465.5,556.5 v5 M467.0,556.5 v5 M468.5,556.5 v5 M470.0,556.5 v5 M471.5,556.5 v5 M473.0,556.5 v5 M474.5,556.5 v5 M476.0,556.5 v5 M477.5,556.5 v5 M479.0,556.5 v5 M480.5,556.5 v5 M482.0,556.5 v5 M483.5,556.5 v5 M485.0,556.5 v5 M486.5,556.5 v5 M488.0,556.5 v5 M489.5,556.5 v5 M491.0,556.5 v5 M492.5,556.5 v5 M494.0,556.5 v5 M495.5,556.5 v5 M497.0,556.5 v5 M498.5,556.5 v5 M500.0,556.5 v5 M501.5,556.5 v5 M503.0,556.5 v5 M504.5,556.5 v5 M506.0,556.5 v5 M507.5,556.5 v5 M509.0,556.5 v5 M510.5,556.5 v5 M512.0,556.5 v5 M513.5,556.5 v5 M515.0,556.5 v5 M516.5,556.5 v5 M518.0,556.5 v5 M519.5,556.5 v5 M521.0,556.5 v5 M522.5,556.5 v5 M524.0,556.5 v5 M525.5,556.5 v5 M527.0,556.5 v5 M528.5,556.5 v5 M530.0,556.5 v5 M531.5,556.5 v5 M533.0,556.5 v5 M534.5,556.5 v5 M536.0,556.5 v5 M537.5,556.5 v5 M539.0,556.5 v5 M540.5,556.5 v5 M542.0,556.5 v5 M543.5,556.5 v5" stroke="#a0a0a0" stroke-width="0.4"/>
<path d="M431.0,583.5 v7.5 M432.5,583.5 v7.5 M434.0,583.5 v7.5 M435.5,583.5 v7.5 M437.0,583.5 v7.5 M438.5,583.5 v7.5 M440.0,583.5 v7.5 M441.5,583.5 v7.5 M443.0,583.5 v7.5 M444.5,583.5 v7.5 M446.0,583.5 v7.5 M447.5,583.5 v7.5 M449.0,583.5 v7.5 M450.5,583.5 v7.5 M452.0,583.5 v7.5 M453.5,583.5 v7.5 M455.0,583.5 v7.5 M456.5,583.5 v7.5 M458.0,583.5 v7.5 M459.5,583.5 v7.5 M461.0,583.5 v7.5 M462.5,583.5 v7.5 M464.0,583.5 v7.5 M465.5,583.5 v7.5 M467.0,583.5 v7.5 M468.5,583.5 v7.5 M470.0,583.5 v7.5 M471.5,583.5 v7.5 M473.0,583.5 v7.5 M474.5,583.5 v7.5 M476.0,583.5 v7.5 M477.5,583.5 v7.5 M479.0,583.5 v7.5 M480.5,583.5 v7.5 M482.0,583.5 v7.5 M483.5,583.5 v7.5 M485.0,583.5 v7.5 M486.5,583.5 v7.5 M488.0,583.5 v7.5 M489.5,583.5 v7.5 M491.0,583.5 v7.5 M492.5,583.5 v7.5 M494.0,583.5 v7.5 M495.5,583.5 v7.5 M497.0,583.5 v7.5 M498.5,583.5 v7.5 M500.0,583.5 v7.5 M501.5,583.5 v7.5 M503.0,583.5 v7.5 M504.5,583.5 v7.5 M506.0,583.5 v7.5 M507.5,583.5 v7.5 M509.0,583.5 v7.5 M510.5,583.5 v7.5 M512.0,583.5 v7.5 M513.5,583.5 v7.5 M515.0,583.5 v7.5 M516.5,583.5 v7.5 M518.0,583.5 v7.5 M519.5,583.5 v7.5 M521.0,583.5 v7.5 M522.5,583.5 v7.5 M524.0,583.5 v7.5 M525.5,583.5 v7.5 M527.0,583.5 v7.5 M528.5,583.5 v7.5 M530.0,583.5 v7.5 M531.5,583.5 v7.5 M533.0,583.5 v7.5 M534.5,583.5 v7.5 M536.0,583.5 v7.5 M537.5,583.5 v7.5 M539.0,583.5 v7.5 M540.5,583.5 v7.5 M542.0,583.5 v7.5 M543.5,583.5 v7.5" stroke="#a0a0a0" stroke-width="0.4"/>
<text x="443.2" y="570.3" text-anchor="middle" font-family="Liberation Sans,sans-serif" font-size="6.8" fill="#2a2a2a">1</text>
<text x="456.5" y="570.3" text-anchor="middle" font-family="Liberation Sans,sans-serif" font-size="6.8" fill="#2a2a2a">2</text>
<text x="469.7" y="570.3" text-anchor="middle" font-family="Liberation Sans,sans-serif" font-size="6.8" fill="#2a2a2a">3</text>
<text x="483.3" y="570.3" text-anchor="middle" font-family="Liberation Sans,sans-serif" font-size="6.8" fill="#2a2a2a">4</text>
<text x="497.1" y="570.3" text-anchor="middle" font-family="Liberation Sans,sans-serif" font-size="6.8" fill="#2a2a2a">5</text>
<text x="510.3" y="570.3" text-anchor="middle" font-family="Liberation Sans,sans-serif" font-size="6.8" fill="#2a2a2a">6</text>
<text x="524.5" y="570.3" text-anchor="middle" font-family="Liberation Sans,sans-serif" font-size="6.8" fill="#2a2a2a">7</text>
<text x="537.8" y="570.3" text-anchor="middle" font-family="Liberation Sans,sans-serif" font-size="6.8" fill="#2a2a2a">8</text>
<text x="463.6" y="581.8" text-anchor="middle" font-family="Liberation Sans,sans-serif" font-size="9" fill="#2a2a2a">1</text>
<text x="497.1" y="581.8" text-anchor="middle" font-family="Liberation Sans,sans-serif" font-size="9" fill="#2a2a2a">2</text>
<text x="531.7" y="581.8" text-anchor="middle" font-family="Liberation Sans,sans-serif" font-size="9" fill="#2a2a2a">3</text>
</svg>
<div class="cap" style="left:38px;top:622.5px">1. Prepare aslip of paper and tie it<br>on your finger</div>
<div class="cap" style="left:221px;top:623px">2. Mark on the junction on the paper</div>
<div class="cap" style="left:416.5px;top:622.2px;line-height:11.4px">3. Measure the length then get the<br>circumfererce</div>
<svg style="left:0;top:0" width="60" height="70" viewBox="0 0 60 70">
<defs>
<radialGradient id="hg" cx="0.45" cy="0.4" r="0.7"><stop offset="0" stop-color="#f7302f"/><stop offset="0.75" stop-color="#ee2426"/><stop offset="1" stop-color="#e4474a"/></radialGradient>
<linearGradient id="rb" x1="0" y1="0" x2="1" y2="1"><stop offset="0" stop-color="#ff2a22"/><stop offset="1" stop-color="#e3141a"/></linearGradient>
</defs>
<path d="M0,5 L9,8 L8,26 L2,30 L0,31 Z" fill="#e8161c"/>
<path d="M8.5,8 L29.5,14.5 L4,27 Z" fill="url(#rb)"/>
<path d="M18,0 L27.3,0 L19.5,10 L6,24 L3,22 L9,11 Z" fill="#f61d1d"/>
<path d="M2.5,29.5 L6.5,29 L9,33 L5,33 Z" fill="#8a2a1a"/>
<path d="M25.8,34.5 C23,30 17,29 12,30 C6,31.5 4,36 4.5,41 C5,47 10,52 15,57 C19,60.5 23,63.5 25.2,66.5 C27.5,63.5 31.5,60.5 36,57 C41,52.5 46.5,47 47,41 C47.5,35.5 45,31 39,30 C33,29 28.5,30.5 25.8,34.5 Z" fill="url(#hg)"/>
<text x="9" y="46.5" textLength="34.7" lengthAdjust="spacingAndGlyphs" font-family="Liberation Sans, DejaVu Sans, sans-serif" font-weight="bold" font-size="9.5" fill="#f7b21f">DEFAULT</text>
<text x="14.6" y="55.6" textLength="19" lengthAdjust="spacing" font-family="Liberation Sans, DejaVu Sans, sans-serif" font-weight="bold" font-size="9" fill="#f7b21f">SIZE</text>
</svg>

</body></html>
